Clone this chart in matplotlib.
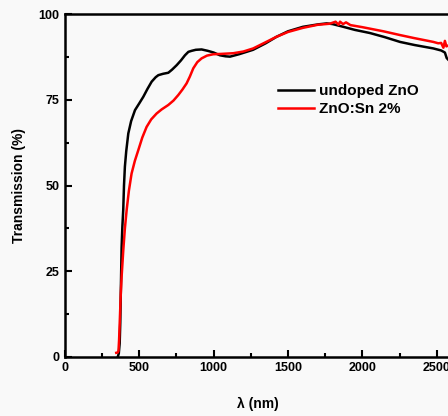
import numpy as np
import matplotlib.pyplot as plt
from matplotlib.ticker import MultipleLocator

plt.rcParams['font.family'] = ['Liberation Sans', 'DejaVu Sans']
plt.rcParams['font.weight'] = 'bold'

# undoped ZnO
wl_undoped = [355, 362, 368, 372, 376, 381, 386, 392, 397, 403, 412, 426, 445, 471,
              500, 527, 555, 583, 610, 628, 660, 695, 720, 751, 780, 807, 830,
              852, 880, 919, 960, 1000, 1042, 1080, 1110, 1170, 1265, 1350,
              1423, 1500, 1600, 1700, 1760, 1800, 1872, 1950, 2050, 2150,
              2253, 2350, 2477, 2530, 2555, 2567, 2580]
t_undoped = [0, 1, 4, 10, 20, 32, 38, 43, 50, 55.5, 60, 65.2, 68.8, 72,
             74, 75.9, 78.2, 80.3, 81.6, 82.2, 82.6, 82.9, 83.8, 85.1, 86.5, 88, 89,
             89.3, 89.6, 89.7, 89.3, 88.8, 88.0, 87.7, 87.6, 88.3, 89.6, 91.5,
             93.4, 95.0, 96.3, 97.0, 97.3, 97.1, 96.3, 95.4, 94.5, 93.3,
             91.9, 91.0, 90.0, 89.4, 88.8, 87.2, 86.6]

# ZnO:Sn 2%
wl_sn = [345, 355, 360, 364, 370, 375, 381, 392, 403, 415, 430, 448, 470, 493,
         520, 549, 580, 616, 650, 695, 730, 762, 790, 818, 840, 863, 890,
         919, 955, 997, 1050, 1132, 1200, 1266, 1340, 1423, 1500, 1600,
         1700, 1780, 1820, 1840, 1850, 1870, 1890, 1920, 2000, 2141, 2253,
         2350, 2477, 2510, 2530, 2545, 2555, 2565, 2580]
t_sn = [1.2, 1.3, 1.8, 5, 12, 18, 23.4, 31, 37.5, 42.9, 48.5, 53.5, 57.2, 60.3,
        64, 67.1, 69.3, 71, 72.2, 73.5, 74.8, 76.4, 78, 79.8, 81.8, 84.2, 86,
        87.1, 87.9, 88.3, 88.4, 88.6, 89.1, 90.0, 91.6, 93.4, 94.8, 96.0,
        96.9, 97.2, 97.8, 96.9, 97.8, 97.1, 97.6, 96.8, 96.2, 95.0, 93.9,
        93.0, 91.9, 91.5, 91.6, 90.2, 92.2, 90.6, 90.9]

fig = plt.figure(figsize=(4.48, 4.16), dpi=100, facecolor='#f9f9f9')
ax = fig.add_axes([0.145, 0.142, 0.863, 0.824])
ax.set_facecolor('#f9f9f9')

ax.plot(wl_undoped, t_undoped, color='black', lw=1.8, label='undoped ZnO')
ax.plot(wl_sn, t_sn, color='#ff0000', lw=1.8, label='ZnO:Sn 2%')

ax.set_xlim(0, 2600)
ax.set_ylim(0, 100)
ax.xaxis.set_major_locator(MultipleLocator(500))
ax.xaxis.set_minor_locator(MultipleLocator(250))
ax.yaxis.set_major_locator(MultipleLocator(25))
ax.yaxis.set_minor_locator(MultipleLocator(12.5))
ax.tick_params(which='both', direction='in', width=1.5, labelsize=9, pad=4,
               top=False, right=False)
ax.tick_params(which='major', length=5)
ax.tick_params(which='minor', length=3)
for lbl in ax.get_xticklabels() + ax.get_yticklabels():
    lbl.set_fontweight('bold')
for s in ax.spines.values():
    s.set_linewidth(1.8)

ax.set_xlabel('λ (nm)', fontsize=10, fontweight='bold', labelpad=16)
ax.set_ylabel('Transmission (%)', fontsize=10, fontweight='bold', labelpad=9)

ax.legend(loc='upper left', bbox_to_anchor=(0.515, 0.835), frameon=False,
          handlelength=2.4, handletextpad=0.3, labelspacing=0.25,
          prop={'weight': 'bold', 'size': 11})

fig.savefig('out.png', dpi=100, facecolor=fig.get_facecolor())
